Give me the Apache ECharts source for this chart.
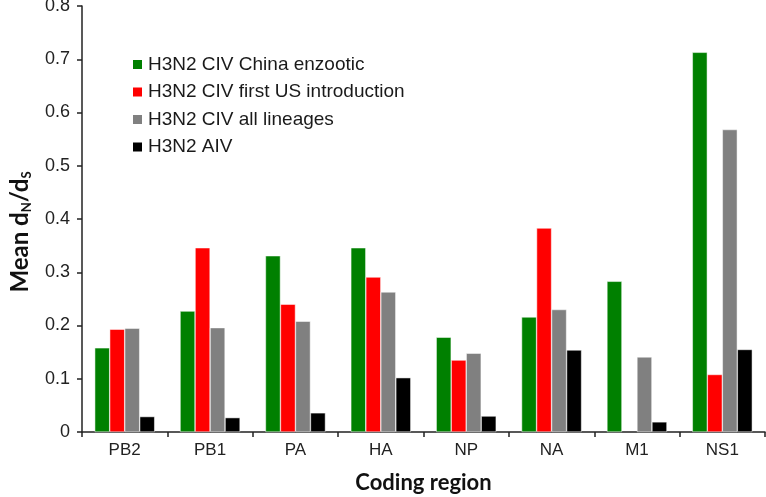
<!DOCTYPE html>
<html><head><meta charset="utf-8">
<script src="https://cdn.jsdelivr.net/npm/echarts@6/dist/echarts.min.js"></script>
<style>html,body{margin:0;padding:0;background:#fff}#c{width:766px;height:497px}</style>
</head><body><div id="c"></div>
<script>
const categories = ['PB2','PB1','PA','HA','NP','NA','M1','NS1'];
const seriesNames = ['H3N2 CIV China enzootic','H3N2 CIV first US introduction','H3N2 CIV all lineages','H3N2 AIV'];
const chinaEnzootic = [0.158,0.227,0.331,0.346,0.178,0.216,0.283,0.713];
const firstUS       = [0.193,0.346,0.240,0.291,0.135,0.383,null,0.108];
const allLineages   = [0.195,0.196,0.208,0.263,0.148,0.230,0.141,0.568];
const aiv           = [0.029,0.027,0.036,0.102,0.030,0.154,0.019,0.155];
const yTicks = [0,0.1,0.2,0.3,0.4,0.5,0.6,0.7,0.8];
const colors = ['#008000','#ff0000','#808080','#000000'];

const chart = echarts.init(document.getElementById('c'), null, {renderer:'canvas'});
const values = [chinaEnzootic, firstUS, allLineages, aiv];
chart.setOption({
  animation:false,
  backgroundColor:'#ffffff',
  grid:{left:82,right:1,top:6,bottom:65,containLabel:false,outerBoundsMode:'none'},
  legend:{
    orient:'vertical', left:126, top:50,
    itemWidth:11, itemHeight:11, itemGap:8.5,
    icon:'rect',
    textStyle:{fontFamily:'Liberation Sans',fontSize:19,color:'#1a1a1a',lineHeight:19},
    data:seriesNames
  },
  xAxis:{
    type:'category', data:categories,
    name:'Coding region', nameLocation:'middle', nameGap:40,
    nameTextStyle:{fontFamily:'Lato',fontWeight:'bold',fontSize:22,color:'#111'},
    axisLine:{lineStyle:{color:'#222',width:1.5}},
    axisTick:{show:true,length:5,lineStyle:{color:'#222',width:1.5}},
    axisLabel:{fontFamily:'Liberation Sans',fontSize:17,color:'#222',margin:10}
  },
  yAxis:{
    type:'value', min:0, max:0.8, interval:0.1,
    name:'Mean d{sub|N}/d{sub|S}', nameLocation:'middle', nameGap:49, nameRotate:90,
    nameTextStyle:{fontFamily:'Lato',fontWeight:'bold',fontSize:24,color:'#111',lineHeight:26,padding:[0,26,0,0],
      rich:{sub:{fontFamily:'Lato',fontWeight:'bold',fontSize:13,color:'#111',verticalAlign:'bottom',lineHeight:26,padding:[9,0,0,0]}}},
    axisLine:{show:true,lineStyle:{color:'#222',width:1.5}},
    axisTick:{show:true,length:5,lineStyle:{color:'#222',width:1.5}},
    splitLine:{show:false},
    axisLabel:{fontFamily:'Liberation Sans',fontSize:18,color:'#222',margin:12,
      formatter:v=>{const t=yTicks.find(x=>Math.abs(x-v)<1e-9);return t===0?'0':String(t);}}
  },
  series: seriesNames.map((n,i)=>({
    name:n, type:'bar', data:values[i], barWidth:15, barGap:'0%',
    itemStyle:{color:colors[i],borderColor:'#ffffff',borderWidth:0.5}
  }))
});
</script></body></html>
